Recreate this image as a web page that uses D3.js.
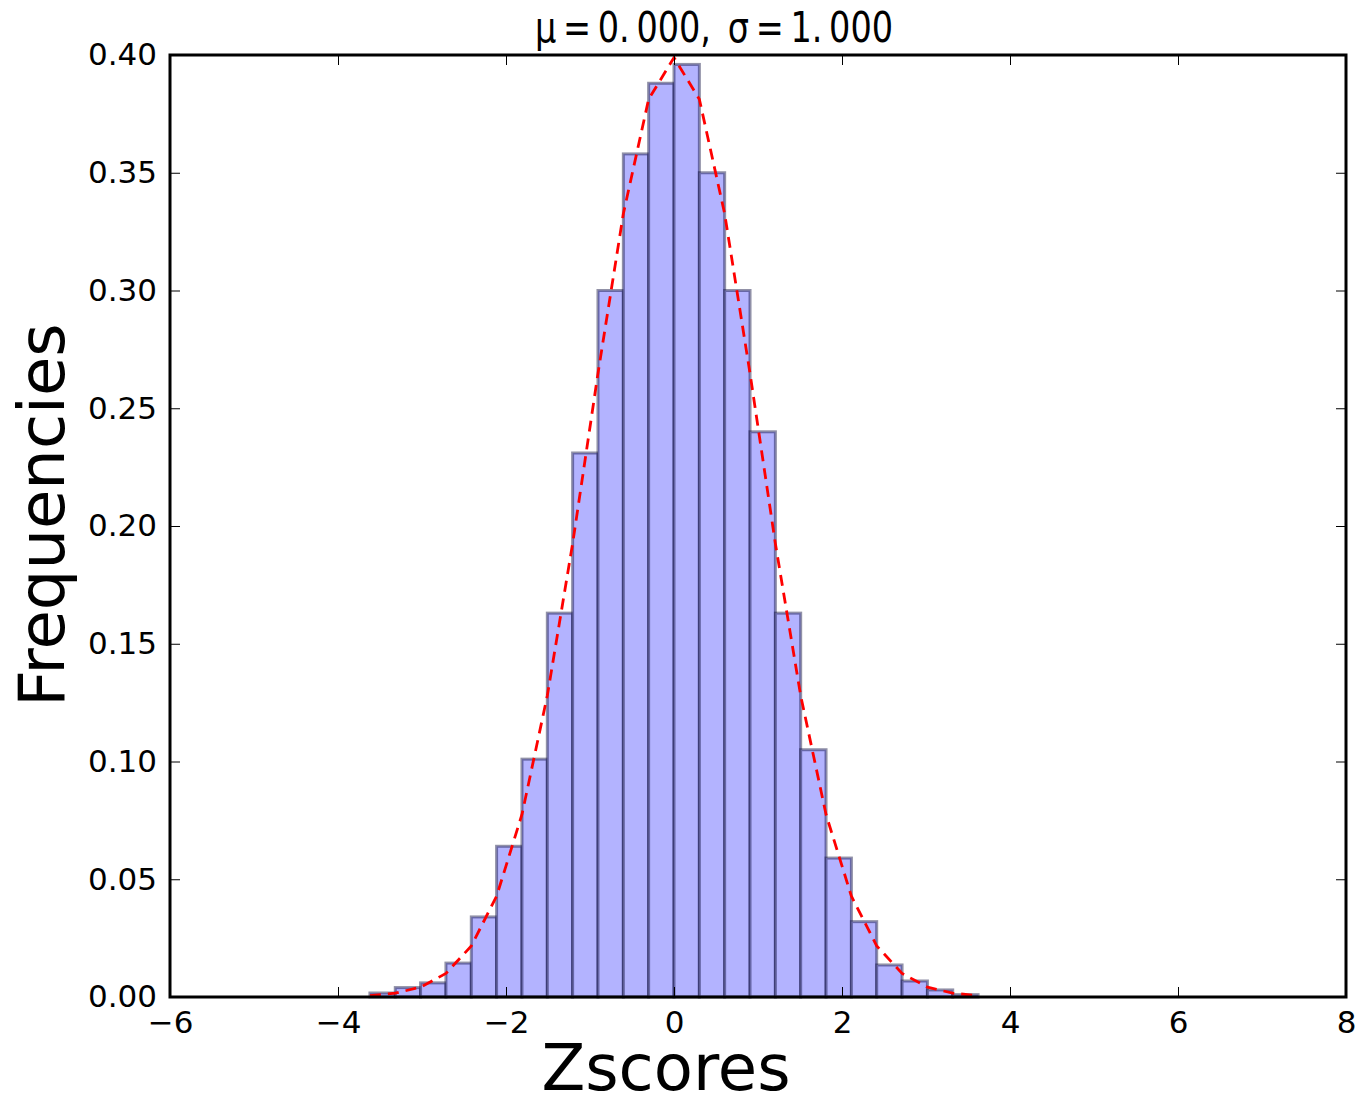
<!DOCTYPE html>
<html>
<head>
<meta charset="utf-8">
<script src="https://cdn.jsdelivr.net/npm/d3@7"></script>
<style>
  body { margin: 0; background: #fff; }
  text { font-family: "DejaVu Sans", sans-serif; fill: #000; }
</style>
</head>
<body>
<svg id="chart" width="1372" height="1104"></svg>
<script>
// histogram bin edges (z units) and normalised heights
var binEdges = [-3.62, -3.318, -3.017, -2.715, -2.413, -2.112, -1.81, -1.508, -1.207, -0.905, -0.603, -0.302,
  0, 0.302, 0.603, 0.905, 1.207, 1.508, 1.81, 2.112, 2.413, 2.715, 3.017, 3.318, 3.62];
var binHeights = [0.0017, 0.004, 0.006, 0.0144, 0.034, 0.064, 0.101, 0.163, 0.231, 0.300, 0.358, 0.388,
  0.396, 0.350, 0.300, 0.240, 0.163, 0.105, 0.059, 0.032, 0.0136, 0.0068, 0.003, 0.001];
// fitted normal curve, read at the bin edges
var curveValues = [0.0006, 0.0016, 0.0042, 0.0100, 0.0217, 0.0428, 0.0775, 0.1280, 0.1925, 0.2648, 0.3326, 0.3812,
  0.3989, 0.3812, 0.3326, 0.2648, 0.1925, 0.1280, 0.0775, 0.0428, 0.0217, 0.0100, 0.0042, 0.0016, 0.0006];
var xTicks = [-6, -4, -2, 0, 2, 4, 6, 8];
var yTicks = [0, 0.05, 0.10, 0.15, 0.20, 0.25, 0.30, 0.35, 0.40];

var plotLeft = 170, plotRight = 1346, plotTop = 55, plotBottom = 997;
var svg = d3.select('#chart');

var x = d3.scaleLinear().domain([-6, 8]).range([plotLeft, plotRight]);
var y = d3.scaleLinear().domain([0, 0.4]).range([plotBottom, plotTop]);

var bins = binHeights.map(function (h, i) {
  return { x0: binEdges[i], x1: binEdges[i + 1], h: h };
});

// bars
svg.append('g')
  .selectAll('rect')
  .data(bins)
  .enter()
  .append('rect')
  .attr('x', function (d) { return x(d.x0); })
  .attr('y', function (d) { return y(d.h); })
  .attr('width', function (d) { return x(d.x1) - x(d.x0); })
  .attr('height', function (d) { return y(0) - y(d.h); })
  .attr('fill', '#b3b3ff')
  .attr('stroke', 'rgba(10,10,60,0.45)')
  .attr('stroke-width', 3);

// normal fit, dashed red
var line = d3.line()
  .x(function (d, i) { return x(binEdges[i]); })
  .y(function (d) { return y(d); });

svg.append('path')
  .datum(curveValues)
  .attr('d', line)
  .attr('fill', 'none')
  .attr('stroke', '#ff0000')
  .attr('stroke-width', 2.8)
  .attr('stroke-dasharray', '11,7');

// axes, ticks pointing inward
var xAxis = d3.axisBottom(x).tickValues(xTicks).tickSizeInner(-10).tickSizeOuter(0).tickPadding(14)
  .tickFormat(d3.format('d'));
var yAxis = d3.axisLeft(y).tickValues(yTicks).tickSizeInner(-10).tickSizeOuter(0).tickPadding(13)
  .tickFormat(d3.format('.2f'));

function styleAxis(g) {
  g.select('.domain').remove();
  g.selectAll('.tick line').attr('stroke', '#000').attr('stroke-width', 1);
  g.selectAll('.tick text').style('font-size', '31px').style('font-family', '"DejaVu Sans", sans-serif');
}

svg.append('g').attr('transform', 'translate(0,' + plotBottom + ')').call(xAxis).call(styleAxis);
svg.append('g').attr('transform', 'translate(' + plotLeft + ',0)').call(yAxis).call(styleAxis);
svg.append('g').attr('transform', 'translate(0,' + plotTop + ')')
  .call(d3.axisTop(x).tickValues(xTicks).tickSizeInner(-10).tickSizeOuter(0).tickFormat(''))
  .call(styleAxis);
svg.append('g').attr('transform', 'translate(' + plotRight + ',0)')
  .call(d3.axisRight(y).tickValues(yTicks).tickSizeInner(-10).tickSizeOuter(0).tickFormat(''))
  .call(styleAxis);

// frame
svg.append('rect')
  .attr('x', plotLeft).attr('y', plotTop)
  .attr('width', plotRight - plotLeft).attr('height', plotBottom - plotTop)
  .attr('fill', 'none')
  .attr('stroke', '#000')
  .attr('stroke-width', 3);

// title and labels
svg.append('text')
  .attr('x', 535).attr('y', 42)
  .attr('textLength', 358)
  .attr('lengthAdjust', 'spacingAndGlyphs')
  .style('font-size', '42px')
  .text('\u03bc\u2009=\u20090.\u2009000,\u2002\u03c3\u2009=\u20091.\u2009000');

svg.append('text')
  .attr('x', 666).attr('y', 1090)
  .attr('text-anchor', 'middle')
  .style('font-size', '64px')
  .text('Zscores');

svg.append('text')
  .attr('transform', 'translate(64,515) rotate(-90)')
  .attr('text-anchor', 'middle')
  .style('font-size', '64px')
  .text('Frequencies');
</script>
</body>
</html>
